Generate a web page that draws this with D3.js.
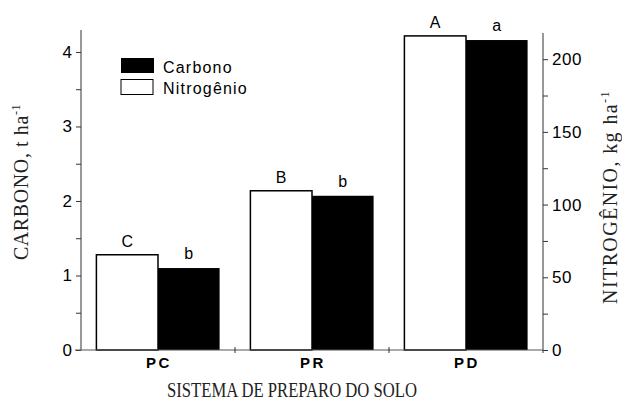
<!DOCTYPE html>
<html lang="pt">
<head>
<meta charset="UTF-8">
<title>Carbono e Nitrogênio</title>
<script src="https://d3js.org/d3.v7.min.js"></script>
<style>
  body { margin: 0; background: #fff; }
  .sans { font-family: "Liberation Sans", Arial, sans-serif; }
  .serif { font-family: "Liberation Serif", "Times New Roman", serif; }
</style>
</head>
<body>
<div id="chart"></div>
<script>
// data
var sistemas = ["PC", "PR", "PD"];
var nitrogenio = [65.5, 109.5, 216];   // kg ha-1 (eixo direito)
var carbono = [1.10, 2.07, 4.16];      // t ha-1 (eixo esquerdo)
var letrasN = ["C", "B", "A"];
var letrasC = ["b", "b", "a"];
var ticksC = [0, 0.5, 1, 1.5, 2, 2.5, 3, 3.5, 4];
var ticksN = [0, 25, 50, 75, 100, 125, 150, 175, 200];

var width = 622, height = 408;
var svg = d3.select("#chart").append("svg")
  .attr("width", width).attr("height", height);

var x0 = 81, x1 = 543, yBase = 350;

var x = d3.scaleBand().domain(sistemas).range([x0, x1]).padding(0);
var xSub = d3.scaleBand().domain(["N", "C"]).range([0, x.bandwidth()])
  .paddingInner(0).paddingOuter(0.25);
var yL = d3.scaleLinear().domain([0, 4.3]).range([yBase, 29.6]);
var yR = d3.scaleLinear().domain([0, 218]).range([yBase, 33]);

// bars
var g = svg.append("g");
g.selectAll("rect.n").data(sistemas).enter().append("rect")
  .attr("class", "n")
  .attr("x", function(d) { return x(d) + xSub("N"); })
  .attr("y", function(d, i) { return yR(nitrogenio[i]); })
  .attr("width", xSub.bandwidth())
  .attr("height", function(d, i) { return yBase - yR(nitrogenio[i]); })
  .attr("fill", "#fff").attr("stroke", "#000").attr("stroke-width", 1.5);

g.selectAll("rect.c").data(sistemas).enter().append("rect")
  .attr("class", "c")
  .attr("x", function(d) { return x(d) + xSub("C"); })
  .attr("y", function(d, i) { return yL(carbono[i]); })
  .attr("width", xSub.bandwidth())
  .attr("height", function(d, i) { return yBase - yL(carbono[i]); })
  .attr("fill", "#000");

// letters above bars
g.selectAll("text.ln").data(sistemas).enter().append("text")
  .attr("class", "sans")
  .attr("x", function(d) { return x(d) + xSub("N") + xSub.bandwidth() / 2; })
  .attr("y", function(d, i) { return yR(nitrogenio[i]) - 8; })
  .attr("text-anchor", "middle").attr("font-size", 16)
  .text(function(d, i) { return letrasN[i]; });

g.selectAll("text.lc").data(sistemas).enter().append("text")
  .attr("class", "sans")
  .attr("x", function(d) { return x(d) + xSub("C") + xSub.bandwidth() / 2; })
  .attr("y", function(d, i) { return yL(carbono[i]) - 9; })
  .attr("text-anchor", "middle").attr("font-size", 16)
  .text(function(d, i) { return letrasC[i]; });

// left axis
var axL = svg.append("g").attr("transform", "translate(" + x0 + ",0)")
  .call(d3.axisLeft(yL).tickValues(ticksC).tickSize(5).tickPadding(4)
    .tickFormat(function(d) { return d % 1 === 0 ? d : ""; }));
axL.select(".domain").attr("d", "M0," + yBase + "V30").attr("stroke", "#333");
axL.selectAll(".tick line").attr("stroke", "#333");
axL.selectAll("text").attr("class", "sans").attr("font-size", 17).attr("fill", "#000");

// right axis
var axR = svg.append("g").attr("transform", "translate(" + x1 + ",0)")
  .call(d3.axisRight(yR).tickValues(ticksN).tickSize(5).tickPadding(4)
    .tickFormat(function(d) { return d % 50 === 0 ? d : ""; }));
axR.select(".domain").attr("d", "M0," + (yBase + 3) + "V33").attr("stroke", "#333");
axR.selectAll(".tick line").attr("stroke", "#333");
axR.selectAll("text").attr("class", "sans").attr("font-size", 17).attr("fill", "#000")
  .attr("letter-spacing", 0.5);

// bottom axis
var axB = svg.append("g");
axB.append("line").attr("x1", x0 - 6).attr("x2", x1)
  .attr("y1", yBase).attr("y2", yBase).attr("stroke", "#555").attr("stroke-width", 1.2);
axB.selectAll("line.sep").data(sistemas.slice(1)).enter().append("line")
  .attr("x1", function(d) { return x(d); }).attr("x2", function(d) { return x(d); })
  .attr("y1", yBase - 3).attr("y2", yBase + 3).attr("stroke", "#333");
axB.selectAll("text").data(sistemas).enter().append("text")
  .attr("class", "sans")
  .attr("x", function(d) { return x(d) + xSub("C") + 1; })
  .attr("y", 368).attr("text-anchor", "middle")
  .attr("font-size", 15).attr("font-weight", "bold").attr("letter-spacing", 2.5)
  .text(function(d) { return d; });

// legend
var leg = svg.append("g");
leg.append("rect").attr("x", 121).attr("y", 58).attr("width", 33).attr("height", 15).attr("fill", "#000");
leg.append("rect").attr("x", 121).attr("y", 79.5).attr("width", 32).attr("height", 15)
  .attr("fill", "#fff").attr("stroke", "#000").attr("stroke-width", 1);
leg.append("text").attr("class", "sans").attr("x", 163).attr("y", 72.5)
  .attr("font-size", 16).attr("letter-spacing", 1.2).text("Carbono");
leg.append("text").attr("class", "sans").attr("x", 163).attr("y", 94)
  .attr("font-size", 16).attr("letter-spacing", 1.2).text("Nitrogênio");

// axis titles
svg.append("text").attr("class", "serif")
  .attr("x", 292).attr("y", 397).attr("text-anchor", "middle")
  .attr("font-size", 20).attr("textLength", 250).attr("lengthAdjust", "spacingAndGlyphs")
  .attr("fill", "#222")
  .text("SISTEMA DE PREPARO DO SOLO");

var tL = svg.append("text").attr("class", "serif")
  .attr("transform", "translate(28,182) rotate(-90)")
  .attr("text-anchor", "middle").attr("font-size", 20).attr("fill", "#222")
  .attr("letter-spacing", 0.6);
tL.append("tspan").text("CARBONO, t ha");
tL.append("tspan").attr("font-size", 12).attr("dy", -8).text("-1");

var tR = svg.append("text").attr("class", "serif")
  .attr("transform", "translate(617,197) rotate(-90)")
  .attr("text-anchor", "middle").attr("font-size", 20).attr("fill", "#222")
  .attr("letter-spacing", 1.4);
tR.append("tspan").text("NITROGÊNIO, kg ha");
tR.append("tspan").attr("font-size", 12).attr("dy", -8).text("-1");
</script>
</body>
</html>
